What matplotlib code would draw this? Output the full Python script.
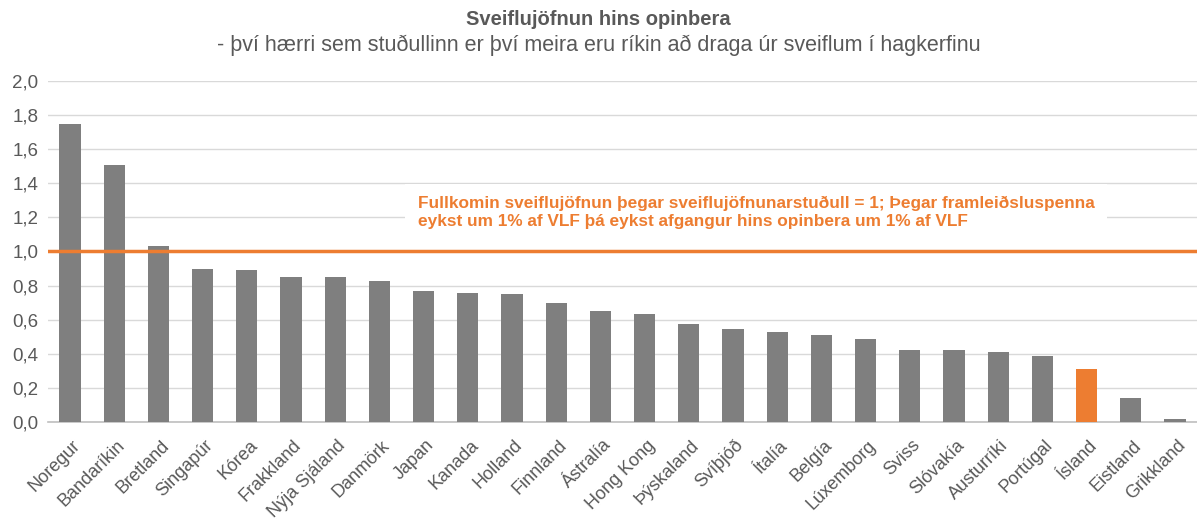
import matplotlib.pyplot as plt
import matplotlib.transforms as mtransforms
import numpy as np

plt.rcParams['font.family'] = ['Liberation Sans', 'DejaVu Sans']

# ---- data ----
countries = ["Noregur", "Bandaríkin", "Bretland", "Singapúr", "Kórea", "Frakkland",
             "Nýja Sjáland", "Danmörk", "Japan", "Kanada", "Holland", "Finnland",
             "Ástralía", "Hong Kong", "Þýskaland", "Svíþjóð", "Ítalía", "Belgía",
             "Lúxemborg", "Sviss", "Slóvakía", "Austurríki", "Portúgal", "Ísland",
             "Eistland", "Grikkland"]
values = [1.75, 1.51, 1.03, 0.90, 0.89, 0.85, 0.85, 0.825, 0.766, 0.757, 0.749, 0.70,
          0.651, 0.632, 0.575, 0.547, 0.528, 0.508, 0.489, 0.422, 0.422, 0.412,
          0.385, 0.309, 0.139, 0.015]
highlight = "Ísland"
target = 1.0

grey = "#7F7F7F"
orange = "#ED7D31"
text_grey = "#595959"

fig = plt.figure(figsize=(11.97, 5.22), dpi=100)
ax = fig.add_axes([0.040, 0.1916, 0.960, 0.6533])

x = np.arange(len(countries))
colors = [orange if c == highlight else grey for c in countries]
ax.bar(x, values, width=0.48, color=colors, zorder=3)

# perfect stabilisation line
ax.axhline(target, color=orange, linewidth=2.5, zorder=4)

ax.set_ylim(0, 2.0)
ax.set_xlim(-0.5, len(countries) - 0.5)
yt = np.arange(0, 2.01, 0.2)
ax.set_yticks(yt)
ax.set_yticklabels([f"{v:.1f}".replace(".", ",") for v in yt], fontsize=13.5, color=text_grey)
ax.set_xticks(x)
ax.set_xticklabels(countries, rotation=45, ha="right", va="center", rotation_mode="anchor",
                   fontsize=13, color=text_grey)
ax.tick_params(axis="x", length=0, pad=15)
ax.tick_params(axis="y", length=0, pad=7)
shift = mtransforms.ScaledTranslation(8 / 100, 0, fig.dpi_scale_trans)
for lab in ax.get_xticklabels():
    lab.set_transform(lab.get_transform() + shift)

ax.grid(axis="y", color="#D9D9D9", linewidth=1, zorder=0)
for s in ["top", "right", "left"]:
    ax.spines[s].set_visible(False)
ax.spines["bottom"].set_color("#BFBFBF")
ax.spines["bottom"].set_linewidth(1.2)

ax.text(7.87, 1.229,
        "Fullkomin sveiflujöfnun þegar sveiflujöfnunarstuðull = 1; Þegar framleiðsluspenna\n"
        "eykst um 1% af VLF þá eykst afgangur hins opinbera um 1% af VLF",
        fontsize=12.4, fontweight="bold", color=orange, va="center", ha="left",
        linespacing=1.2, zorder=5,
        bbox=dict(facecolor="white", edgecolor="none", pad=9))

fig.text(0.5, 0.963, "Sveiflujöfnun hins opinbera", ha="center", va="center",
         fontsize=14.5, fontweight="bold", color=text_grey)
fig.text(0.5, 0.914, "- því hærri sem stuðullinn er því meira eru ríkin að draga úr sveiflum í hagkerfinu",
         ha="center", va="center", fontsize=15.5, color=text_grey)

fig.savefig("out.png", dpi=100)
